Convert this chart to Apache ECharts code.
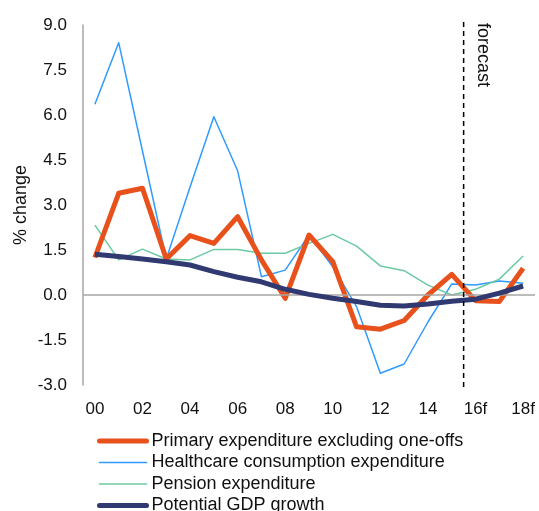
<!DOCTYPE html>
<html>
<head>
<meta charset="utf-8">
<script src="https://cdn.jsdelivr.net/npm/echarts@6/dist/echarts.min.js"></script>
<style>html,body{margin:0;padding:0;background:#fff;}#c{width:539px;height:511px;}</style>
</head>
<body>
<div id="c"></div>
<script>
var categories = ['00','01','02','03','04','05','06','07','08','09','10','11','12','13','14','15','16f','17f','18f'];
var primaryExp = [1.25, 3.39, 3.56, 1.2, 1.98, 1.72, 2.61, 1.17, -0.11, 2.0, 1.11, -1.06, -1.14, -0.85, 0.0, 0.69, -0.19, -0.22, 0.89];
var healthcareExp = [6.36, 8.41, 4.8, 1.2, 3.6, 5.94, 4.14, 0.61, 0.83, 2.0, 0.94, -0.39, -2.61, -2.3, -0.9, 0.37, 0.33, 0.47, 0.39];
var pensionExp = [2.33, 1.17, 1.53, 1.2, 1.17, 1.52, 1.52, 1.39, 1.39, 1.72, 2.02, 1.63, 0.97, 0.81, 0.33, 0.0, 0.19, 0.53, 1.3];
var potentialGdp = [1.36, 1.28, 1.2, 1.11, 1.0, 0.78, 0.59, 0.44, 0.19, 0.02, -0.11, -0.22, -0.34, -0.37, -0.3, -0.21, -0.14, 0.06, 0.3];
var seriesNames = ['Primary expenditure excluding one-offs', 'Healthcare consumption expenditure', 'Pension expenditure', 'Potential GDP growth'];
var yTicks = {min: -3, max: 9, interval: 1.5};
var forecastLabel = 'forecast';
var forecastAfter = '15';
var forecastBefore = '16f';

var FONT = '"Liberation Sans", Arial, sans-serif';
var chart = echarts.init(document.getElementById('c'), null, {renderer: 'canvas'});
var option = {
  animation: false,
  backgroundColor: '#ffffff',
  grid: {left: 83, right: 4, top: 25, bottom: 126, containLabel: false},
  legend: {
    orient: 'vertical', left: 97, top: 432, height: 120, padding: 0,
    itemWidth: 47, itemHeight: 14, itemGap: 3.5,
    data: seriesNames,
    itemStyle: {opacity: 0},
    lineStyle: {width: 'inherit', cap: 'round'},
    textStyle: {fontFamily: FONT, fontSize: 18, color: '#111'}
  },
  xAxis: {
    type: 'category', data: categories, boundaryGap: true,
    axisLine: {show: false}, axisTick: {show: false}, splitLine: {show: false},
    axisLabel: {interval: 1, margin: 16, fontFamily: FONT, fontSize: 17, color: '#111'}
  },
  yAxis: {
    type: 'value', min: yTicks.min, max: yTicks.max, interval: yTicks.interval,
    name: '% change', nameLocation: 'middle', nameGap: 53, nameMoveOverlap: false,
    nameTextStyle: {fontFamily: FONT, fontSize: 18, color: '#111'},
    axisLine: {show: true, lineStyle: {color: '#a6a6a6', width: 1.5}},
    axisTick: {show: false}, splitLine: {show: false},
    axisLabel: {margin: 16, fontFamily: FONT, fontSize: 17, color: '#111', formatter: function(v){return v.toFixed(1);}}
  },
  series: [
    {name: seriesNames[1], type: 'line', data: healthcareExp, symbol: 'none', z: 2,
     lineStyle: {color: '#2f9bff', width: 1.5, join: 'round'}, itemStyle: {color: '#2f9bff'},
     markLine: {silent: true, symbol: ['none','none'], label: {show: false},
       lineStyle: {color: '#a6a6a6', width: 1.5, type: 'solid'}, data: [{yAxis: 0}]}},
    {name: seriesNames[2], type: 'line', data: pensionExp, symbol: 'none', z: 3,
     lineStyle: {color: '#6ccaa2', width: 1.5, join: 'round'}, itemStyle: {color: '#6ccaa2'}},
    {name: seriesNames[0], type: 'line', data: primaryExp, symbol: 'none', z: 4,
     lineStyle: {color: '#e8511c', width: 5, join: 'round'}, itemStyle: {color: '#e8511c'}},
    {name: seriesNames[3], type: 'line', data: potentialGdp, symbol: 'none', z: 5,
     lineStyle: {color: '#303a70', width: 5, join: 'round'}, itemStyle: {color: '#303a70'}}
  ]
};
chart.setOption(option);

var xa = chart.convertToPixel({xAxisIndex: 0}, forecastAfter);
var xb = chart.convertToPixel({xAxisIndex: 0}, forecastBefore);
var fx = (xa + xb) / 2;
var yTop = chart.convertToPixel({yAxisIndex: 0}, yTicks.max) - 3;
var yBot = chart.convertToPixel({yAxisIndex: 0}, yTicks.min) + 3;
chart.setOption({
  graphic: [
    {type: 'line', shape: {x1: fx, y1: yTop, x2: fx, y2: yBot}, z: 10,
     style: {stroke: '#000', lineWidth: 1.5, lineDash: [5, 4]}},
    {type: 'text', x: fx + 19, y: yTop + 1, rotation: -Math.PI / 2, z: 10,
     style: {text: forecastLabel, font: '18px ' + FONT, fill: '#111', align: 'left', verticalAlign: 'middle'}}
  ]
});
</script>
</body>
</html>
